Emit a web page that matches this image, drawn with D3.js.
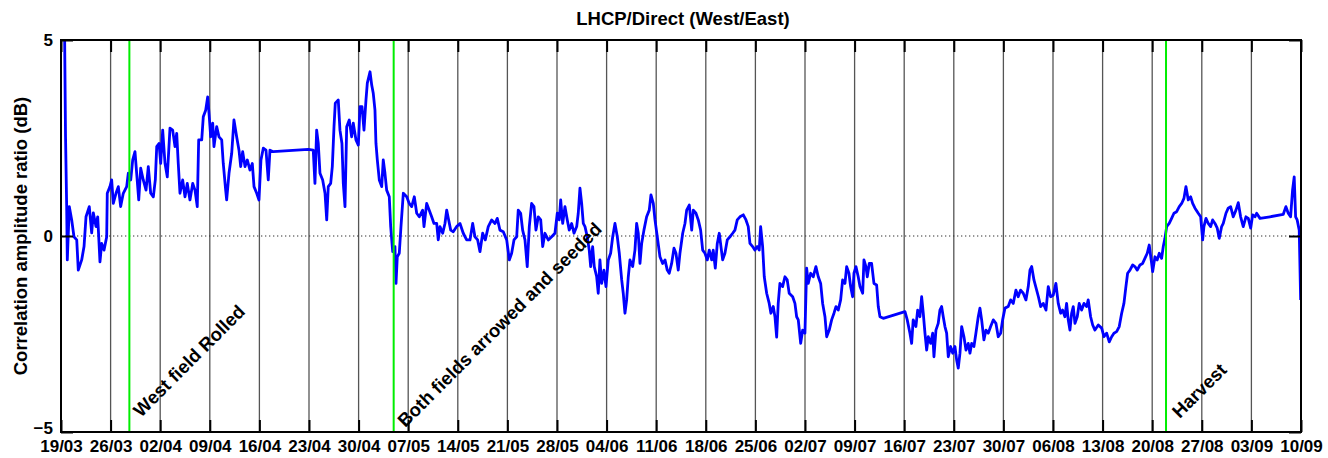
<!DOCTYPE html>
<html>
<head>
<meta charset="utf-8">
<script src="https://cdn.jsdelivr.net/npm/d3@7"></script>
<style>
  body { margin: 0; background: #fff; }
  svg { display: block; font-family: "Liberation Sans", Arial, Helvetica, sans-serif; }
</style>
</head>
<body>
<svg id="chart" width="1328" height="458"></svg>
<script>
// Weekly date ticks, as days since 19/03
const tickDays = [0, 7, 14, 21, 28, 35, 42, 49, 56, 63, 70, 77, 84, 91, 98, 105, 112, 119, 126, 133, 140, 147, 154, 161, 168, 175];
const tickLabels = ["19/03", "26/03", "02/04", "09/04", "16/04", "23/04", "30/04", "07/05", "14/05", "21/05",
  "28/05", "04/06", "11/06", "18/06", "25/06", "02/07", "09/07", "16/07", "23/07", "30/07",
  "06/08", "13/08", "20/08", "27/08", "03/09", "10/09"];
const yTicks = [-5, 0, 5];

// Field events (day since 19/03) and their labels (placed at day / dB)
const eventDays = [9.65, 46.95, 155.95];
const eventLabels = ["West field Rolled", "Both fields arrowed and seeded", "Harvest"];
const eventLabelDays = [11.3, 48.6, 157.9];
const eventLabelDb = [-4.64, -4.9, -4.67];

// LHCP/Direct correlation amplitude ratio, West/East: [day since 19/03, dB]
const ratioSeries = [
  [0.5,5.3],[0.64,2.53],[0.8,0.75],[0.89,-0.61],[1.17,0.75],[1.51,0.41],[1.83,-0.02],[2.22,-0.1],[2.44,-0.87],[2.92,-0.61],
  [3.25,-0.27],[3.53,0.49],[3.99,0.75],[4.33,0.08],[4.56,0.59],[4.94,0.24],[5.18,0.49],[5.5,-0.66],[5.74,-0.19],[6.07,-0.36],
  [6.45,-0.02],[6.53,1.09],[6.91,1.26],[7.15,1.43],[7.38,0.83],[7.76,1.09],[8.09,1.26],[8.42,0.75],[8.79,1.09],[9.27,1.26],
  [9.5,1.6],[9.84,1.43],[10.12,1.94],[10.44,2.15],[10.68,1.6],[10.97,0.92],[11.25,1.73],[11.61,1.43],[12.0,1.17],[12.32,1.77],
  [12.66,1.09],[13.03,1.0],[13.31,1.43],[13.51,2.28],[13.83,2.36],[14.07,1.85],[14.35,2.7],[14.68,1.85],[15.0,1.51],[15.38,2.75],
  [15.76,2.7],[16.09,2.28],[16.33,2.62],[16.55,1.85],[16.79,1.09],[17.17,1.43],[17.5,1.0],[17.82,1.34],[18.2,0.92],[18.59,1.34],
  [18.91,1.17],[19.23,0.75],[19.43,2.45],[19.86,2.45],[20.08,3.04],[20.42,3.21],[20.7,3.55],[20.89,3.13],[21.13,2.53],[21.41,2.88],
  [21.59,2.28],[21.97,2.79],[22.3,2.53],[22.68,2.45],[22.9,1.85],[23.24,1.17],[23.38,0.92],[23.71,1.6],[24.09,2.11],[24.41,2.96],
  [24.79,2.53],[25.12,2.19],[25.36,1.77],[25.64,2.15],[25.97,1.77],[26.29,1.94],[26.67,1.68],[27.0,1.85],[27.24,1.26],[27.62,1.09],
  [27.94,0.92],[28.22,1.94],[28.55,2.24],[28.93,2.19],[29.25,1.43],[29.49,2.19],[29.96,2.15],[34.9,2.21],
  [35.6,2.19],[35.84,1.34],[36.08,2.7],[36.31,2.36],[36.55,1.6],[36.93,1.43],[37.26,1.09],[37.5,0.41],[37.72,1.26],[38.06,1.34],
  [38.29,1.77],[38.53,2.79],[38.71,3.39],[39.13,3.47],[39.37,2.7],[39.65,2.36],[39.84,1.34],[40.08,0.75],[40.32,2.79],[40.68,2.96],
  [41.02,2.53],[41.25,2.88],[41.63,2.45],[41.96,2.32],[42.2,3.3],[42.48,3.3],[42.76,2.7],[43.04,3.47],[43.23,3.9],[43.61,4.19],
  [43.85,3.85],[44.07,3.64],[44.31,3.21],[44.45,2.36],[44.64,1.94],[44.92,1.43],[45.26,1.26],[45.48,1.94],[45.72,1.6],[45.96,1.17],
  [46.33,1.0],[46.53,0.24],[46.81,-0.4],[47.13,-0.27],[47.28,-1.21],[47.46,-0.53],[47.74,-0.44],[47.98,0.24],[48.31,1.09],[48.79,1.0],
  [49.15,0.83],[49.49,0.75],[49.86,1.0],[50.2,0.58],[50.56,0.49],[51.04,0.66],[51.23,0.24],[51.61,0.83],[51.97,0.66],[52.31,0.49],
  [52.64,0.32],[53.02,0.32],[53.24,-0.1],[53.48,0.24],[53.87,0.07],[54.19,0.32],[54.43,0.66],[54.71,0.41],[55.0,0.15],[55.36,0.11],
  [55.84,0.24],[56.31,0.32],[56.77,0.07],[57.25,-0.1],[57.72,-0.1],[58.1,0.32],[58.42,-0.02],[58.8,-0.1],[59.13,-0.4],[59.51,0.07],
  [59.88,-0.1],[60.3,0.24],[60.78,0.41],[61.25,0.32],[61.57,0.45],[61.95,0.15],[62.42,0.11],[62.9,-0.1],[63.27,-0.61],[63.6,-0.44],
  [63.93,-0.1],[64.31,-0.02],[64.53,0.66],[64.87,0.58],[65.15,0.15],[65.48,-0.1],[65.8,-0.78],[66.09,0.24],[66.42,0.83],[66.75,0.75],
  [67.03,0.15],[67.36,0.49],[67.7,0.41],[67.98,-0.27],[68.3,0.07],[68.77,-0.1],
  [69.25,-0.02],[69.71,0.07],[70.04,0.58],[70.32,0.41],[70.52,0.92],[70.8,0.32],[71.12,0.75],[71.45,0.41],[71.73,0.15],[72.07,0.32],
  [72.4,0.07],[72.78,0.24],[73.0,0.58],[73.24,1.22],[73.48,0.83],[73.71,0.32],[73.95,0.24],[74.27,-0.02],[74.55,-0.36],[74.75,-0.78],
  [75.03,-0.27],[75.26,-0.78],[75.6,-1.04],[75.82,-1.46],[76.06,-0.61],[76.3,-1.21],[76.63,-0.87],[76.91,-1.29],[77.24,-0.61],[77.57,-0.44],
  [77.86,-0.02],[78.18,0.32],[78.51,-0.02],[78.79,-0.44],[79.13,-1.12],[79.35,-1.46],[79.59,-1.97],[79.83,-1.63],[80.06,-1.04],[80.3,-0.61],
  [80.68,-0.78],[81.0,-0.36],[81.24,0.32],[81.47,0.07],[81.71,-0.7],[81.95,-0.19],[82.27,0.15],[82.65,0.49],[83.02,0.66],[83.26,1.05],
  [83.59,0.83],[83.83,0.41],[84.15,-0.02],[84.53,-0.53],[84.91,-0.7],[85.24,-0.61],[85.56,-0.87],[85.84,-0.95],[86.18,-0.7],[86.51,-0.31],
  [86.79,-0.44],[87.11,-0.87],[87.35,-0.44],[87.74,0.07],[88.06,0.32],[88.3,0.66],[88.67,0.79],[89.01,0.15],[89.24,0.66],[89.61,0.58],
  [89.94,0.41],[90.27,0.15],[90.56,-0.36],[90.88,-0.44],[91.21,-0.61],[91.49,-0.36],[91.83,-0.61],[92.05,-0.36],[92.34,-0.82],[92.62,-0.19],
  [92.9,0.07],[93.14,-0.27],[93.38,-0.61],[93.7,-0.44],[94.03,-0.1],[94.41,-0.02],[94.79,0.07],[95.11,0.15],[95.44,0.41],[95.82,0.49],
  [96.29,0.54],[96.67,0.41],[96.99,0.24],[97.23,-0.19],[97.61,-0.27],[97.94,-0.36],[98.26,-0.27],[98.54,-0.36],[98.74,0.24],[99.02,-0.27],
  [99.25,-1.04],[99.59,-1.46],[99.95,-1.72],[100.19,-1.97],[100.52,-1.8],[100.76,-2.06],[101.0,-2.58],[101.22,-1.72],[101.46,-1.21],[101.84,-1.29],
  [102.17,-1.04],[102.49,-1.12],[102.77,-1.46],
  [103.26,-1.55],[103.58,-1.72],[103.82,-2.06],[104.05,-2.14],[104.39,-2.74],[104.67,-2.4],[104.99,-2.48],[105.23,-0.82],[105.46,-1.21],[105.8,-0.95],
  [106.16,-1.04],[106.54,-0.78],[106.87,-1.04],[107.21,-1.21],[107.49,-1.72],[107.82,-2.06],[108.06,-2.57],[108.42,-2.4],[108.76,-2.14],[109.09,-1.97],
  [109.37,-1.8],[109.69,-1.89],[110.03,-1.63],[110.31,-1.12],[110.64,-1.21],[110.88,-0.78],[111.2,-0.95],[111.44,-1.29],[111.72,-1.55],[111.91,-0.95],
  [112.19,-0.78],[112.51,-1.04],[112.76,-1.29],[113.14,-1.46],[113.32,-0.61],[113.6,-0.78],[113.79,-1.04],[114.07,-0.7],[114.4,-0.7],[114.73,-1.21],
  [115.11,-1.25],[115.34,-1.8],[115.58,-2.06],[116.04,-2.1],[119.11,-1.93],[119.43,-2.14],[119.81,-2.48],[120.05,-2.74],[120.27,-2.14],[120.65,-2.31],
  [120.9,-1.89],[121.22,-2.06],[121.46,-1.55],[121.69,-1.97],[121.93,-2.48],[122.17,-2.91],[122.4,-2.57],[122.73,-2.74],[123.02,-2.48],[123.2,-3.08],
  [123.48,-2.4],[123.8,-2.23],[124.04,-1.89],[124.28,-1.8],[124.51,-2.06],[124.75,-2.31],[124.99,-2.48],[125.22,-3.08],[125.55,-2.82],[125.84,-2.99],
  [126.16,-2.82],[126.4,-3.16],[126.63,-3.37],[126.87,-2.99],[127.11,-2.31],[127.43,-2.57],[127.72,-2.91],[128.04,-2.74],[128.28,-2.99],[128.52,-2.74],
  [128.84,-2.82],[129.12,-2.48],[129.45,-2.06],[129.69,-1.84],[129.93,-2.14],[130.25,-2.65],[130.54,-2.4],[130.86,-2.48],[131.2,-2.31],[131.57,-2.14],
  [131.95,-2.23],[132.27,-2.57],[132.61,-2.48],[132.89,-2.14],[133.22,-1.84],[133.68,-1.8],[134.02,-1.63],[134.39,-1.72],[134.77,-1.38],[135.09,-1.55],
  [135.43,-1.38],[135.8,-1.46],[136.18,-1.63],[136.51,-1.29],[136.75,-0.87],[136.99,-0.78],[137.31,-1.12],[137.94,-1.55],[138.26,-1.8],[138.63,-1.72],
  [139.01,-1.89],[139.33,-1.29],[139.66,-1.55],[140.03,-1.51],[140.41,-1.21],[140.74,-1.72],[141.08,-1.97],[141.36,-1.89],[141.68,-2.06],[141.92,-1.72],
  [142.15,-2.14],[142.39,-2.4],[142.63,-1.97],[142.86,-1.8],[143.1,-2.23],[143.42,-2.06],[143.7,-1.72],[144.04,-1.89],[144.37,-1.72],[144.75,-1.8],
  [144.97,-1.63],[145.31,-2.06],[145.6,-2.27],[145.92,-2.4],[146.39,-2.27],[146.87,-2.35],[147.19,-2.57],[147.57,-2.48],[147.94,-2.7],[148.28,-2.57],
  [148.6,-2.48],[148.98,-2.44],[149.35,-2.31],[149.69,-1.97],[150.01,-1.72],[150.29,-1.29],[150.53,-0.95],[150.86,-0.87],[151.24,-0.74],[151.56,-0.78],
  [151.89,-0.87],[152.27,-0.74],[152.65,-0.7],[152.97,-0.57],[153.3,-0.44],[153.58,-0.23],[153.92,-0.7],[154.06,-0.91],[154.39,-0.53],[154.71,-0.61],
  [155.0,-0.44],[155.33,-0.57],[155.56,-0.27],[155.8,-0.06],[156.04,0.24],[156.4,0.32],[156.74,0.45],[157.07,0.58],[157.45,0.62],[157.82,0.75],
  [158.16,0.83],[158.48,0.96],[158.76,1.26],[159.09,0.92],[159.43,1.0],[159.71,0.83],[160.04,0.71],[160.5,0.58],[160.84,0.49],[161.12,-0.1],
  [161.3,0.24],[161.59,0.45],[161.91,0.32],[162.25,0.24],[162.53,0.41],[162.86,0.32],[163.18,0.2],[163.46,-0.06],[163.8,0.24],[164.03,0.32],
  [164.41,0.58],[164.73,0.71],[165.07,0.75],[165.44,0.49],[165.82,0.66],[166.15,0.85],[166.48,0.49],[166.85,0.24],[167.23,0.49],[167.56,0.45],
  [167.9,0.2],[168.18,0.54],[168.5,0.49],[168.74,0.58],[169.21,0.45],[170.62,0.49],[172.49,0.55],[172.87,0.75],[173.2,0.58],[173.53,0.49],
  [173.81,1.17],[174.04,1.51],[174.24,0.49],[174.46,0.41],[174.75,0.15],[174.95,-1.63]
];

const svg = d3.select("#chart");
const plot = { left: 61, right: 1301, top: 40, bottom: 432 };

const x = d3.scaleLinear().domain([0, 175]).range([plot.left, plot.right]);
const y = d3.scaleLinear().domain([-5, 5]).range([plot.bottom, plot.top]);

svg.append("defs").append("clipPath").attr("id", "plotClip")
  .append("rect")
  .attr("x", plot.left).attr("y", plot.top)
  .attr("width", plot.right - plot.left).attr("height", plot.bottom - plot.top);

// Vertical week grid
svg.append("g")
  .selectAll("line")
  .data(tickDays.slice(1, -1))
  .join("line")
  .attr("x1", d => x(d)).attr("x2", d => x(d))
  .attr("y1", plot.top).attr("y2", plot.bottom)
  .attr("stroke", "#555")
  .attr("stroke-width", 1.3);

// Dotted zero reference
svg.append("line")
  .attr("x1", plot.left).attr("x2", plot.right)
  .attr("y1", y(0)).attr("y2", y(0))
  .attr("stroke", "#333")
  .attr("stroke-width", 1.2)
  .attr("stroke-dasharray", "1.3,2.7");

// Ratio series
const line = d3.line().x(d => x(d[0])).y(d => y(d[1]));
svg.append("path")
  .datum(ratioSeries)
  .attr("clip-path", "url(#plotClip)")
  .attr("d", line)
  .attr("fill", "none")
  .attr("stroke", "#0000ff")
  .attr("stroke-width", 2.8)
  .attr("stroke-linejoin", "round");

// Event markers
svg.append("g")
  .selectAll("line")
  .data(eventDays)
  .join("line")
  .attr("x1", d => x(d)).attr("x2", d => x(d))
  .attr("y1", plot.top).attr("y2", plot.bottom)
  .attr("stroke", "#00ee00")
  .attr("stroke-width", 2);

// Axes: ticks point inward on all four sides
const fmt = (d) => tickLabels[tickDays.indexOf(d)];
const styleAxis = g => {
  g.select(".domain").remove();
  g.selectAll(".tick line").attr("stroke", "#000").attr("stroke-width", 2);
  g.selectAll("text").attr("fill", "#000").attr("font-weight", "bold");
};

svg.append("g")
  .attr("transform", `translate(0,${plot.bottom})`)
  .call(d3.axisBottom(x).tickValues(tickDays).tickFormat(fmt).tickSize(-12).tickPadding(8))
  .call(styleAxis)
  .call(g => g.selectAll("text").attr("font-size", 17));

svg.append("g")
  .attr("transform", `translate(0,${plot.top})`)
  .call(d3.axisTop(x).tickValues(tickDays).tickFormat("").tickSize(-12))
  .call(styleAxis);

svg.append("g")
  .attr("transform", `translate(${plot.left},0)`)
  .call(d3.axisLeft(y).tickValues(yTicks).tickFormat(d3.format("d")).tickSize(-12).tickPadding(8))
  .call(styleAxis)
  .call(g => g.selectAll("text").attr("font-size", 17))
  // the bottom label sits a little higher so it clears the date labels
  .call(g => g.selectAll(".tick").filter(d => d === -5).select("text").attr("dy", "0.1em"));

svg.append("g")
  .attr("transform", `translate(${plot.right},0)`)
  .call(d3.axisRight(y).tickValues(yTicks).tickFormat("").tickSize(-12))
  .call(styleAxis);

// Box
svg.append("rect")
  .attr("x", plot.left).attr("y", plot.top)
  .attr("width", plot.right - plot.left).attr("height", plot.bottom - plot.top)
  .attr("fill", "none")
  .attr("stroke", "#000")
  .attr("stroke-width", 2);

// Event annotations
svg.append("g")
  .selectAll("text")
  .data(eventLabels)
  .join("text")
  .attr("transform", (d, i) => `translate(${x(eventLabelDays[i])},${y(eventLabelDb[i])}) rotate(-45)`)
  .attr("font-size", 18.5)
  .attr("font-weight", "bold")
  .attr("fill", "#000")
  .text(d => d);

// Title
svg.append("text")
  .attr("x", 683).attr("y", 25)
  .attr("text-anchor", "middle")
  .attr("font-size", 18.5)
  .attr("font-weight", "bold")
  .text("LHCP/Direct (West/East)");

// Y axis label
svg.append("text")
  .attr("transform", `translate(27,${(plot.top + plot.bottom) / 2}) rotate(-90)`)
  .attr("text-anchor", "middle")
  .attr("font-size", 18.5)
  .attr("font-weight", "bold")
  .text("Correlation amplitude ratio (dB)");
</script>
</body>
</html>
